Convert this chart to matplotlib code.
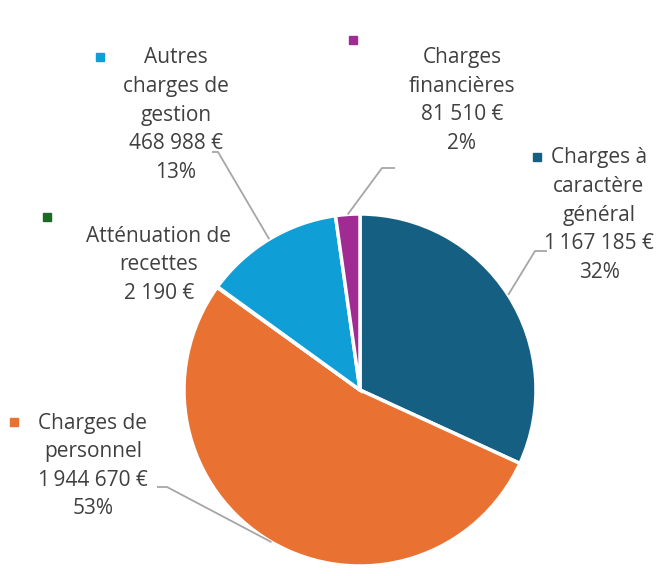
"""Répartition des charges de fonctionnement (camembert)"""

import numpy as np
import matplotlib
matplotlib.use("Agg")
import matplotlib.pyplot as plt

plt.rcParams["font.family"] = ["Open Sans", "DejaVu Sans"]

# données
categories = ["Charges à\ncaractère\ngénéral", "Charges de\npersonnel",
              "Atténuation de\nrecettes", "Autres\ncharges de\ngestion",
              "Charges\nfinancières"]
montants = [1167185, 1944670, 2190, 468988, 81510]
colors = ["#156082", "#E97132", "#196B24", "#0F9ED5", "#A02B93"]
show_pct = [True, True, False, True, True]

W, H = 670, 576
CX, CY, R = 360, 390, 176   # centre / rayon du camembert (pixels, origine en haut)

# positions des étiquettes (pixels, origine en haut) : centre du texte, marqueur, coude
label_pos = [(599, 215), (93, 466), (159, 265), (176, 115), (462, 100.5)]
marker_pos = [(537, 157), (14, 422), (47, 217), (100, 57), (353, 40)]
elbow = [((547, 251), (535, 251)), ((157, 487), (167, 487)), None,
         ((212, 152), (218, 152)), ((395, 168), (382, 168))]

fig = plt.figure(figsize=(W / 100, H / 100), dpi=100)
ax = fig.add_axes([0, 0, 1, 1])

wedges, _ = ax.pie(montants, colors=colors, startangle=90, counterclock=False,
                   center=(CX, H - CY), radius=R,
                   wedgeprops=dict(edgecolor="white", linewidth=2.5))
ax.set_xlim(0, W)
ax.set_ylim(0, H)
ax.set_aspect("equal")
ax.axis("off")

total = sum(montants)


def fmt_euro(v):
    s = f"{v:,}".split(",")
    # le groupe des millions est collé par une espace fine, comme dans Excel
    if len(s) == 3:
        return s[0] + "\u2009" + s[1] + " " + s[2] + " €"
    return " ".join(s) + " €"


for i, w in enumerate(wedges):
    txt = categories[i] + "\n" + fmt_euro(montants[i])
    if show_pct[i]:
        txt += f"\n{montants[i] / total * 100:.0f}%"
    lx, ly = label_pos[i]
    ax.text(lx, H - ly, txt, ha="center", va="center", fontsize=15,
            color="#404040", linespacing=1.47)
    mx, my = marker_pos[i]
    ax.plot(mx, H - my, marker="s", markersize=6, color=colors[i], linestyle="none")

    if elbow[i] is not None:
        mid = np.deg2rad((w.theta1 + w.theta2) / 2)
        px = CX + R * np.cos(mid)
        py = (H - CY) + R * np.sin(mid)
        (x0, y0), (x1, y1) = elbow[i]
        ax.plot([x0, x1, px], [H - y0, H - y1, py], color="#A6A6A6",
                linewidth=1.3, solid_capstyle="butt")

fig.savefig("out.png", dpi=100)
